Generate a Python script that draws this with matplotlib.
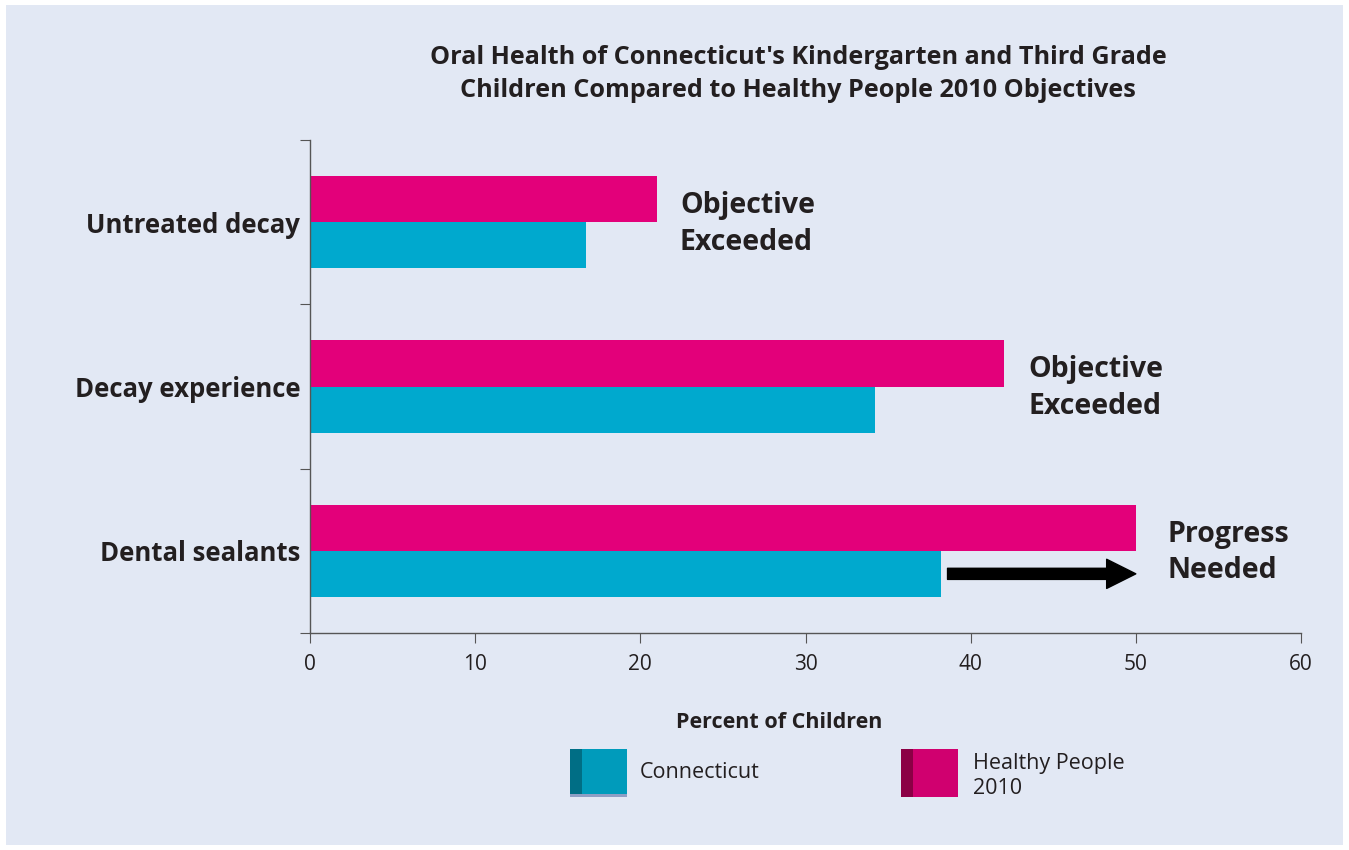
import matplotlib.pyplot as plt
from matplotlib.patches import Rectangle

plt.rcParams['font.family'] = ['Open Sans', 'DejaVu Sans']

categories = ['Untreated decay', 'Decay experience', 'Dental sealants']
connecticut = [16.7, 34.2, 38.2]
healthy_people = [21.0, 42.0, 50.0]
notes = ['Objective\nExceeded', 'Objective\nExceeded', 'Progress\nNeeded']
note_x = [22.4, 43.5, 51.9]
xticks = [0, 10, 20, 30, 40, 50, 60]

ct_color = '#00A9CE'
hp_color = '#E3007A'
bg = '#E2E8F4'
text_color = '#231F20'

W, H = 1349, 850
fig = plt.figure(figsize=(W / 100, H / 100), dpi=100)
fig.patch.set_facecolor('white')
fig.patches.append(Rectangle((6 / W, 5 / H), 1337 / W, 840 / H, transform=fig.transFigure,
                             facecolor=bg, edgecolor='none', zorder=-10))

ax = fig.add_axes([310 / W, (H - 633) / H, 991 / W, 493 / H])
ax.set_facecolor(bg)

y = list(range(len(categories)))
h = 0.28
ax.barh([v - h / 2 for v in y], healthy_people, height=h, color=hp_color)
ax.barh([v + h / 2 for v in y], connecticut, height=h, color=ct_color)

for i, t in enumerate(notes):
    ax.text(note_x[i], y[i] + 0.01, t, fontsize=20.5, fontweight='bold', color=text_color,
            va='center', ha='left', linespacing=1.36)

# arrow for dental sealants
ax.annotate('', xy=(50, 2 + h / 2), xytext=(38.6, 2 + h / 2),
            arrowprops=dict(arrowstyle='simple,head_length=1.05,head_width=1.05,tail_width=0.4',
                            color='black', shrinkA=0, shrinkB=0, mutation_scale=20))

ax.set_xlim(0, 60)
ax.set_ylim(2.5, -0.5)
ax.set_xticks(xticks)
ax.set_xticklabels([str(v) for v in xticks], fontsize=15, color=text_color)
ax.set_yticks([-0.5, 0.5, 1.5, 2.5])
ax.set_yticklabels([])
ax.set_yticks(y, minor=True)
ax.set_yticklabels(categories, minor=True, fontsize=18.5, fontweight='bold', color=text_color)
ax.tick_params(axis='y', which='minor', length=0, pad=7)
ax.tick_params(axis='y', which='major', length=7, color='#555555')
ax.tick_params(axis='x', length=7, color='#555555', pad=8)
for s in ['top', 'right']:
    ax.spines[s].set_visible(False)
for s in ['left', 'bottom']:
    ax.spines[s].set_color('#555555')
    ax.spines[s].set_linewidth(1)

ax.set_xlabel('Percent of Children', fontsize=15.5, fontweight='bold', color=text_color,
              labelpad=27, x=(779 - 310) / 991)

fig.text(798 / W, 1 - 74 / H, "Oral Health of Connecticut's Kindergarten and Third Grade\n"
         "Children Compared to Healthy People 2010 Objectives",
         ha='center', va='center', fontsize=18.2, fontweight='bold', color=text_color, linespacing=1.38)


# legend swatches
def swatch(x0, main, dark, bottom):
    fig.patches.append(Rectangle((x0 / W, (H - 797) / H), 57 / W, 48 / H, transform=fig.transFigure,
                                 facecolor=main, edgecolor='none'))
    fig.patches.append(Rectangle((x0 / W, (H - 797) / H), 12 / W, 48 / H, transform=fig.transFigure,
                                 facecolor=dark, edgecolor='none'))
    if bottom:
        fig.patches.append(Rectangle((x0 / W, (H - 797) / H), 57 / W, 3 / H, transform=fig.transFigure,
                                     facecolor=bottom, edgecolor='none'))


swatch(570, '#009BBB', '#006E85', '#8E9EC4')
swatch(901, '#D0006F', '#8B0045', None)
fig.text(640 / W, 1 - 772 / H, 'Connecticut', fontsize=15.5, color=text_color, va='center')
fig.text(973 / W, 1 - 776 / H, 'Healthy People\n2010', fontsize=15.5, color=text_color, va='center',
         linespacing=1.3)

fig.savefig('out.png', dpi=100, facecolor=fig.get_facecolor())
